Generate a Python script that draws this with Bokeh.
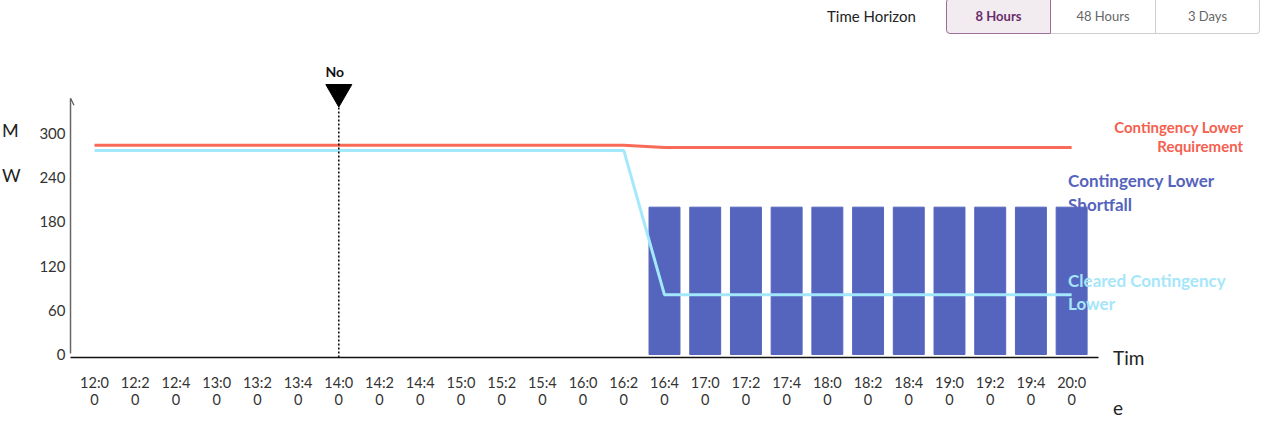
from bokeh.plotting import figure
from bokeh.models import (ColumnDataSource, FixedTicker, Label, Arrow, OpenHead,
                          Div, Range1d)
from bokeh.layouts import column
from bokeh.embed import file_html
from bokeh.resources import INLINE

# ---------------- data ----------------
times = ["12:00", "12:20", "12:40", "13:00", "13:20", "13:40", "14:00", "14:20",
         "14:40", "15:00", "15:20", "15:40", "16:00", "16:20", "16:40", "17:00",
         "17:20", "17:40", "18:00", "18:20", "18:40", "19:00", "19:20", "19:40",
         "20:00"]
requirement = [284, 284, 284, 284, 284, 284, 284, 284, 284, 284, 284, 284, 284, 284,
               281, 281, 281, 281, 281, 281, 281, 281, 281, 281, 281]
cleared = [277, 277, 277, 277, 277, 277, 277, 277, 277, 277, 277, 277, 277, 277,
           81, 81, 81, 81, 81, 81, 81, 81, 81, 81, 81]
shortfall = [0, 0, 0, 0, 0, 0, 0, 0, 0, 0, 0, 0, 0, 0,
             200, 200, 200, 200, 200, 200, 200, 200, 200, 200, 200]
y_ticks = [0, 60, 120, 180, 240, 300]
now_time = "14:00"
now_label = "No"
horizon_options = ["8 Hours", "48 Hours", "3 Days"]
active_option = "8 Hours"

RED = "#f96b58"
BLUE = "#5565be"
CYAN = "#a3e9fb"
FONT = "Lato"

idx = list(range(len(times)))

# ---------------- header (time horizon buttons) ----------------
btn_html = ""
widths = [105, 105, 104]
for i, (opt, w) in enumerate(zip(horizon_options, widths)):
    active = opt == active_option
    radius = "4px 0 0 4px" if i == 0 else ("0 4px 4px 0" if i == len(horizon_options) - 1 else "0")
    border = "1px solid #9c6f9b" if active else "1px solid #cfcfcf"
    left_border = "" if (i == 0 or active) else "border-left:none;"
    style = (f"box-sizing:border-box;width:{w}px;height:36px;line-height:34px;"
             f"text-align:center;font-size:13px;border:{border};{left_border}"
             f"border-radius:{radius};"
             + ("background:#f2ecf1;color:#6b2c6b;font-weight:bold;" if active
                else "background:#ffffff;color:#666666;"))
    btn_html += f'<div style="{style}">{opt}</div>'

header_html = (
    '<div style="position:relative;top:-7px;width:1240px;height:36px;'
    f'font-family:{FONT},sans-serif;">'
    '<div style="position:absolute;left:822px;top:0;height:36px;line-height:36px;'
    'font-size:15px;color:#222;">Time Horizon</div>'
    f'<div style="position:absolute;left:941px;top:0;display:flex;">{btn_html}</div>'
    '</div>'
)
header = Div(text=header_html, width=1240, height=33)

# ---------------- figure ----------------
W, H = 1247, 378
BL, BR, BT, BB = 70, 149, 17, 64
x0, x1 = -0.59, 24.66
y0, y1 = -4.07, 399.1
p = figure(width=W, height=H, x_range=Range1d(x0, x1), y_range=Range1d(y0, y1),
           output_backend="svg", toolbar_location=None,
           min_border_left=BL, min_border_right=BR, min_border_top=BT,
           min_border_bottom=BB)
p.outline_line_color = None
p.xgrid.visible = False
p.ygrid.visible = False

# canvas position helpers (follow the figure's own linear scales)
fw, fh = W - BL - BR, H - BT - BB
def cx(v):
    return BL + (v - x0) / (x1 - x0) * fw
def cy(v):
    return BT + (y1 - v) / (y1 - y0) * fh

# bars
bar_src = ColumnDataSource(dict(
    x=[i for i, s in zip(idx, shortfall) if s > 0],
    top=[s for s in shortfall if s > 0]))
p.vbar(x="x", top="top", bottom=0, width=0.76, source=bar_src,
       fill_color=BLUE, line_color=BLUE)

# lines
p.line(idx, requirement, line_width=3, line_color=RED)
p.line(idx, cleared, line_width=3, line_color=CYAN)

# now marker
now_i = times.index(now_time)
tri_y = 356.3
p.segment(x0=[now_i], y0=[y0], x1=[now_i], y1=[344.8], line_color="black",
          line_width=1.5, line_dash="2 2")
p.scatter(x=[now_i], y=[tri_y], marker="inverted_triangle", size=26,
          fill_color="black", line_color="black")
p.add_layout(Label(x=now_i, y=tri_y, x_offset=-4, y_offset=21, text=now_label,
                   text_font=FONT, text_font_style="bold", text_font_size="14px",
                   text_color="#111", text_align="center", text_baseline="middle"))

# axes
xa = p.xaxis[0]
xa.ticker = FixedTicker(ticks=idx)
xa.major_label_overrides = {i: t[:-1] + "\n" + t[-1] for i, t in zip(idx, times)}
xa.major_tick_out = 0
xa.major_tick_in = 0
xa.minor_tick_out = 0
xa.minor_tick_in = 0
xa.axis_line_color = "#111111"
xa.axis_line_width = 1.5
xa.major_label_standoff = 16
xa.major_label_text_font = FONT
xa.major_label_text_font_size = "14.5px"
xa.major_label_text_color = "#333333"
xa.major_label_text_line_height = 1.0

ya = p.yaxis[0]
ya.ticker = FixedTicker(ticks=y_ticks)
ya.bounds = (2, 348)
ya.major_tick_out = 0
ya.major_tick_in = 0
ya.minor_tick_out = 0
ya.minor_tick_in = 0
ya.axis_line_color = "#666666"
ya.axis_line_width = 1.5
ya.major_label_standoff = 5
ya.major_label_text_font = FONT
ya.major_label_text_font_size = "15px"
ya.major_label_text_color = "#333333"

p.add_layout(Arrow(end=OpenHead(size=7, line_width=1.2, line_color="#555555"),
                   x_start=x0, y_start=340, x_end=x0, y_end=348,
                   line_alpha=0))

# ---------------- text outside the plot frame (HTML overlay) ----------------
def tag(text, x, y, right=False, **css):
    tx = "-100%" if right else "0"
    style = (f"position:absolute;left:{x:.1f}px;top:{y:.1f}px;"
             f"transform:translate({tx},-50%);white-space:nowrap;"
             + ("text-align:right;" if right else "")
             + "".join(f"{k.replace('_', '-')}:{v};" for k, v in css.items()))
    return f'<div style="{style}">{text}</div>'

frame_right = BL + fw
overlay = "".join([
    tag("M", 0, cy(y_ticks[-1]) - 3, font_size="18px", line_height="20px", color="#222"),
    tag("W", 0, cy(y_ticks[-2]) - 2, font_size="18px", line_height="20px", color="#222"),
    tag("Tim", frame_right + 13, cy(0) + 4, font_size="19px", line_height="22px", color="#222"),
    tag("e", frame_right + 13, cy(0) + 54, font_size="19px", line_height="22px", color="#222"),
    tag("Contingency Lower<br>Requirement", cx(idx[-1]) + 170, cy(requirement[-1]) - 10.5,
        right=True, font_size="15px", line_height="19px", font_weight="bold", color="#f5604f"),
    tag("Contingency Lower<br>Shortfall", cx(idx[-1]) - 5, cy(shortfall[-1]) - 13.7,
        font_size="17px", line_height="24px", font_weight="bold", color="#5563bd"),
    tag("Cleared Contingency<br>Lower", cx(idx[-1]) - 5, cy(cleared[-1]) - 2.8,
        font_size="17px", line_height="23px", font_weight="bold", color="#a6e6f9"),
])
footer_html = (f'<div style="position:relative;top:-{H + 5}px;left:-3px;width:{W}px;'
               f'height:{H}px;pointer-events:none;font-family:{FONT},sans-serif;">'
               f'{overlay}</div>')
footer = Div(text=footer_html, width=W, height=1)

layout = column(header, p, footer)
open("out.html", "w").write(file_html(layout, INLINE))
